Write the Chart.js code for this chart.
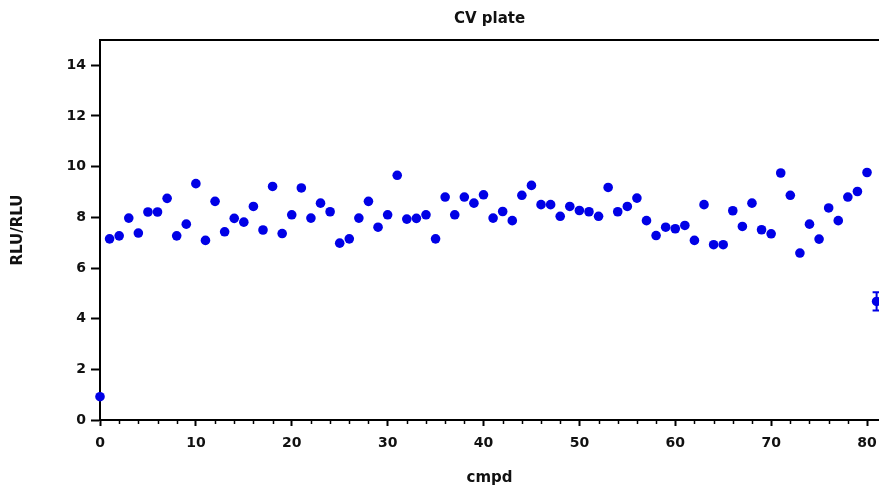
<!DOCTYPE html>
<html>
<head>
<meta charset="utf-8">
<script src="https://cdn.jsdelivr.net/npm/chart.js@4/dist/chart.umd.min.js"></script>
<style>
  html, body { margin: 0; padding: 0; background: #fff; }
  #wrap { width: 879px; height: 487px; }
</style>
</head>
<body>
<div id="wrap"><canvas id="c" width="879" height="487"></canvas></div>
<script>
// ---- data ----
const compounds = [
  0, 1, 2, 3, 4, 5, 6, 7, 8, 9,
  10, 11, 12, 13, 14, 15, 16, 17, 18, 19,
  20, 21, 22, 23, 24, 25, 26, 27, 28, 29,
  30, 31, 32, 33, 34, 35, 36, 37, 38, 39,
  40, 41, 42, 43, 44, 45, 46, 47, 48, 49,
  50, 51, 52, 53, 54, 55, 56, 57, 58, 59,
  60, 61, 62, 63, 64, 65, 66, 67, 68, 69,
  70, 71, 72, 73, 74, 75, 76, 77, 78, 79,
  80, 81
];
const ratios = [
  0.92, 7.15, 7.27, 7.97, 7.38, 8.21, 8.21, 8.75, 7.27, 7.73,
  9.33, 7.09, 8.63, 7.43, 7.96, 7.81, 8.43, 7.50, 9.22, 7.36,
  8.10, 9.16, 7.97, 8.56, 8.22, 6.98, 7.15, 7.97, 8.63, 7.61,
  8.10, 9.66, 7.93, 7.96, 8.10, 7.15, 8.80, 8.10, 8.80, 8.56,
  8.89, 7.97, 8.23, 7.87, 8.87, 9.26, 8.50, 8.50, 8.04, 8.43,
  8.27, 8.22, 8.04, 9.18, 8.22, 8.43, 8.76, 7.87, 7.28, 7.61,
  7.55, 7.68, 7.09, 8.50, 6.92, 6.92, 8.26, 7.64, 8.56, 7.51,
  7.35, 9.75, 8.87, 6.59, 7.73, 7.14, 8.37, 7.87, 8.80, 9.02,
  9.77, 4.68
];
const errors = [
  0, 0, 0, 0, 0, 0, 0, 0, 0, 0,
  0, 0, 0, 0, 0, 0, 0, 0, 0, 0,
  0, 0, 0, 0, 0, 0, 0, 0, 0, 0,
  0, 0, 0, 0, 0, 0, 0, 0, 0, 0,
  0, 0, 0, 0, 0, 0, 0, 0, 0, 0,
  0, 0, 0, 0, 0, 0, 0, 0, 0, 0,
  0, 0, 0, 0, 0, 0, 0, 0, 0, 0,
  0, 0, 0, 0, 0, 0, 0, 0, 0, 0,
  0, 0.36
];
const xMajorTicks = [0, 10, 20, 30, 40, 50, 60, 70, 80];
const xMinorTicks = [2, 4, 6, 8, 12, 14, 16, 18, 22, 24, 26, 28, 32, 34, 36, 38,
                     42, 44, 46, 48, 52, 54, 56, 58, 62, 64, 66, 68, 72, 74, 76, 78];
const yTicks = [0, 2, 4, 6, 8, 10, 12, 14];
const titleText = 'CV plate';
const xTitle = 'cmpd';
const yTitle = 'RLU/RLU';

// ---- chart ----
const BLUE = 'rgb(0,0,230)';
const FONT = 'DejaVu Sans';
const points = compounds.map((x, i) => ({ x: x, y: ratios[i] }));

const bgPlugin = {
  id: 'bg',
  beforeDraw(chart) {
    const ctx = chart.ctx;
    ctx.save();
    ctx.fillStyle = '#fff';
    ctx.fillRect(0, 0, chart.width, chart.height);
    ctx.restore();
  }
};

const minorTickPlugin = {
  id: 'minorTicks',
  afterDraw(chart) {
    const sx = chart.scales.x;
    const ctx = chart.ctx;
    const y0 = chart.chartArea.bottom;
    ctx.save();
    ctx.strokeStyle = '#000';
    ctx.lineWidth = 1.5;
    xMinorTicks.forEach(v => {
      const px = Math.round(sx.getPixelForValue(v)) + 0.5;
      ctx.beginPath();
      ctx.moveTo(px, y0);
      ctx.lineTo(px, y0 + 4);
      ctx.stroke();
    });
    ctx.restore();
  }
};

const errorBarPlugin = {
  id: 'errorBars',
  afterDatasetsDraw(chart) {
    const sx = chart.scales.x, sy = chart.scales.y;
    const ctx = chart.ctx;
    ctx.save();
    ctx.strokeStyle = BLUE;
    ctx.lineWidth = 2;
    compounds.forEach((x, i) => {
      const e = errors[i];
      if (!e) return;
      const px = sx.getPixelForValue(x);
      const top = sy.getPixelForValue(ratios[i] + e);
      const bot = sy.getPixelForValue(ratios[i] - e);
      ctx.beginPath();
      ctx.moveTo(px, top); ctx.lineTo(px, bot);
      ctx.moveTo(px - 4, top); ctx.lineTo(px + 4, top);
      ctx.moveTo(px - 4, bot); ctx.lineTo(px + 4, bot);
      ctx.stroke();
    });
    ctx.restore();
  }
};

new Chart(document.getElementById('c'), {
  type: 'scatter',
  data: {
    datasets: [{
      data: points,
      backgroundColor: BLUE,
      borderColor: BLUE,
      pointRadius: 4.8,
      pointHoverRadius: 4.8,
      borderWidth: 0,
      clip: false
    }]
  },
  options: {
    responsive: false,
    animation: false,
    events: [],
    layout: { padding: 0, autoPadding: false },
    plugins: {
      legend: { display: false },
      tooltip: { enabled: false },
      title: { display: false }
    },
    scales: {
      x: {
        type: 'linear',
        position: 'bottom',
        min: 0,
        max: 81.25,
        afterBuildTicks(scale) { scale.ticks = xMajorTicks.map(v => ({ value: v })); },
        afterFit(scale) { scale.height = 67; scale.paddingLeft = 0; scale.paddingRight = 0; },
        border: { display: true, color: '#000', width: 2 },
        grid: { drawOnChartArea: false, drawTicks: true, tickLength: 6, tickColor: '#000', tickWidth: 2 },
        ticks: { color: '#111', padding: 9, maxRotation: 0, autoSkip: false,
                 font: { family: FONT, size: 14, weight: 'bold' } },
        title: { display: true, text: xTitle, color: '#111', padding: { top: 7, bottom: 0 },
                 font: { family: FONT, size: 15, weight: 'bold' } }
      },
      x2: {
        type: 'linear',
        position: 'top',
        min: 0,
        max: 81.25,
        afterFit(scale) { scale.height = 40; scale.paddingLeft = 0; scale.paddingRight = 0; },
        border: { display: true, color: '#000', width: 2 },
        grid: { drawOnChartArea: false, drawTicks: false },
        ticks: { display: false },
        title: { display: true, text: titleText, color: '#111', padding: { top: 10, bottom: 0 },
                 font: { family: FONT, size: 15, weight: 'bold' } }
      },
      y: {
        type: 'linear',
        position: 'left',
        min: 0,
        max: 15,
        afterBuildTicks(scale) { scale.ticks = yTicks.map(v => ({ value: v })); },
        afterFit(scale) { scale.width = 100; scale.paddingTop = 0; scale.paddingBottom = 0; },
        border: { display: true, color: '#000', width: 2 },
        grid: { drawOnChartArea: false, drawTicks: true, tickLength: 9, tickColor: '#000', tickWidth: 2 },
        ticks: { color: '#111', padding: 5,
                 font: { family: FONT, size: 14, weight: 'bold' } },
        title: { display: true, text: yTitle, color: '#111', padding: { top: 9, bottom: 0 },
                 font: { family: FONT, size: 15, weight: 'bold' } }
      }
    }
  },
  plugins: [bgPlugin, minorTickPlugin, errorBarPlugin]
});
</script>
</body>
</html>
